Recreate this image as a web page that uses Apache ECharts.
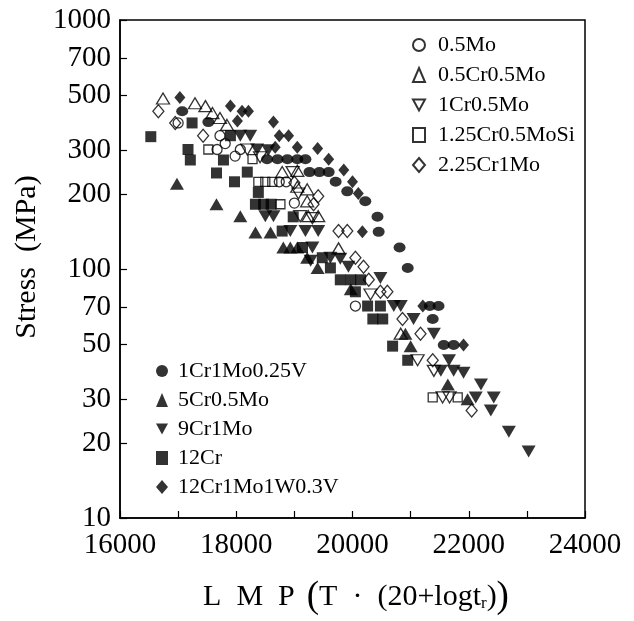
<!DOCTYPE html>
<html>
<head>
<meta charset="utf-8">
<script src="https://cdn.jsdelivr.net/npm/echarts@6/dist/echarts.min.js"></script>
<style>
  html, body { margin: 0; padding: 0; background: #fff; }
  #chart { width: 634px; height: 621px; }
</style>
</head>
<body>
<div id="chart"></div>
<script>
// Larson-Miller parameter vs. rupture stress for ferritic heat-resistant steels
// Each point: [LMP, stress in MPa]

const yTickValues = [10, 20, 30, 50, 70, 100, 200, 300, 500, 700, 1000];
const xLabelStep = 2000;

const mo05 = [[17000,386],[17720,343],[17810,319],[17670,302],[18070,302],[17980,284],
  [18740,224],[18860,224],[19000,184],[20050,71]];
const cr05mo05 = [[16740,484],[17290,463],[17470,451],[17590,423],[17720,404],[17840,379],
  [18790,245],[19050,248],[19050,214],[19220,209],[19220,187],[19240,163],[19410,163],
  [19760,121],[20830,55]];
const cr1mo05 = [[18190,302],[18410,281],[18970,245],[19070,201],[19100,163],[19310,160],
  [20310,79],[21120,43],[21400,39],[21550,30.5],[21670,30.5]];
const cr125mo05si = [[17520,302],[18280,276],[18380,224],[18500,224],[18620,224],[18760,182],
  [21380,30.5],[21810,30.5]];
const cr225mo1 = [[16660,430],[16950,386],[17430,343],[19000,222],[19410,196],[19330,182],
  [19760,142],[19910,142],[20050,111],[20190,102],[20280,90.5],[20480,81],[20600,81],
  [20860,63],[21170,55],[21380,43],[22050,27]];

const cr1mo1v = [[17070,430],[17520,389],[18530,276],[18710,276],[18880,276],[19050,276],
  [19190,276],[19260,245],[19430,245],[19590,245],[19710,224],[19910,205],[20220,187],
  [20430,162],[20450,141],[20810,122],[20950,101],[21330,71],[21480,71],[21380,63],
  [21570,49.5],[21740,49.5]];
const cr5mo05 = [[16980,220],[17660,182],[18070,163],[18330,140],[18590,140],[18810,122],
  [18930,122],[19050,122],[19220,111],[19400,101],[19970,83],[20910,55],[21000,49],
  [21640,34.4],[21980,30]];
const cr9mo1 = [[18070,343],[18240,343],[18360,302],[18550,300],[18500,163],[18640,163],
  [18930,142],[19190,142],[19410,142],[19310,122],[19280,108],[19620,111],[19790,110],
  [19930,102],[20480,92],[20710,71],[20830,71],[21050,63],[21400,55],[21660,43],[21520,39],
  [21740,39],[21910,38.3],[22210,34.4],[22120,30.5],[22430,30.5],[22380,27],[22690,22.2],
  [23030,18.5]];
const cr12 = [[16530,340],[17240,386],[17170,302],[17210,274],[17900,343],[17780,274],
  [17660,243],[17970,224],[18190,245],[18380,203],[18330,182],[18470,182],[18600,182],
  [18980,162],[18790,142],[19140,122],[19480,111],[19620,101],[19790,90.5],[19970,90.5],
  [20140,90.5],[20050,81],[20260,71],[20480,71],[20350,63],[20520,63],[20690,49],[20950,43]];
const cr12mo1w = [[17030,488],[17900,451],[18100,430],[18210,430],[18020,393],[18640,389],
  [18740,343],[18900,343],[18670,308],[19050,308],[19400,305],[19590,276],[19850,250],
  [20000,224],[20100,201],[20170,141],[21210,71],[21910,49.5]];

const openNames = ['0.5Mo', '0.5Cr0.5Mo', '1Cr0.5Mo', '1.25Cr0.5MoSi', '2.25Cr1Mo'];
const filledNames = ['1Cr1Mo0.25V', '5Cr0.5Mo', '9Cr1Mo', '12Cr', '12Cr1Mo1W0.3V'];

const FONT = '"Liberation Serif", "Times New Roman", serif';
// point-down triangle used for the ▽ / ▼ grades (legend icons inherit it)
const DOWN_TRIANGLE = 'path://M0,0L12,0L6,11Z';

function scatter(name, data, symbol, size, filled) {
  return {
    name: name,
    type: 'scatter',
    data: data,
    symbol: symbol,
    symbolSize: size,
    itemStyle: filled
      ? { color: '#000', borderWidth: 0 }
      : { color: 'rgba(255,255,255,0)', borderColor: '#000', borderWidth: 1.3 },
    emphasis: { disabled: true },
    z: filled ? 2 : 3
  };
}

const series = [
  scatter('0.5Mo', mo05, 'circle', 10, false),
  scatter('0.5Cr0.5Mo', cr05mo05, 'triangle', [13, 11], false),
  scatter('1Cr0.5Mo', cr1mo05, DOWN_TRIANGLE, [13, 11], false),
  scatter('1.25Cr0.5MoSi', cr125mo05si, 'rect', 9, false),
  scatter('2.25Cr1Mo', cr225mo1, 'diamond', [11, 13], false),
  scatter('1Cr1Mo0.25V', cr1mo1v, 'circle', [12, 10], true),
  scatter('5Cr0.5Mo', cr5mo05, 'triangle', [14, 12], true),
  scatter('9Cr1Mo', cr9mo1, DOWN_TRIANGLE, [14, 12], true),
  scatter('12Cr', cr12, 'rect', 11, true),
  scatter('12Cr1Mo1W0.3V', cr12mo1w, 'diamond', [11, 13], true)
];

const legendText = { fontFamily: FONT, fontSize: 22, lineHeight: 22, color: '#000', padding: [0, 0, 0, 8] };

const chart = echarts.init(document.getElementById('chart'), null, { renderer: 'canvas' });
chart.setOption({
  backgroundColor: '#fff',
  animation: false,
  grid: {
    left: 120, right: 49, top: 20, bottom: 93,
    show: true, borderColor: '#000', borderWidth: 1.5, backgroundColor: 'transparent'
  },
  legend: [
    {
      data: openNames, orient: 'vertical', left: 412, top: 34, padding: 0,
      itemWidth: 12, itemHeight: 14, itemGap: 8, textStyle: legendText,
      selectedMode: false
    },
    {
      data: filledNames, orient: 'vertical', left: 156, top: 360, padding: 0,
      itemWidth: 12, itemHeight: 14, itemGap: 7, textStyle: Object.assign({}, legendText, { padding: [0, 0, 0, 5] }),
      selectedMode: false
    }
  ],
  xAxis: {
    type: 'value', min: 16000, max: 24000, interval: 1000,
    name: '{a|L  M  P}    {b|(}{a|T  ·  (20+logt}{s|r}{a|)}{b|)}',
    nameLocation: 'middle', nameGap: 61,
    nameTextStyle: {
      color: '#000', fontFamily: FONT, padding: [0, 0, 0, 7],
      rich: {
        a: { fontFamily: FONT, fontSize: 30, color: '#000' },
        b: { fontFamily: FONT, fontSize: 37, color: '#000' },
        s: { fontFamily: FONT, fontSize: 17, color: '#000', padding: [12, 0, 0, 0] }
      }
    },
    axisLine: { lineStyle: { color: '#000', width: 1.5 } },
    axisTick: { inside: true, length: 7, lineStyle: { color: '#000', width: 1.2 } },
    axisLabel: {
      color: '#000', fontFamily: FONT, fontSize: 29, margin: 13,
      formatter: function (v) { return v % xLabelStep === 0 ? String(v) : ''; }
    },
    splitLine: { show: false }
  },
  yAxis: {
    type: 'log', logBase: 10, min: 10, max: 1000,
    name: 'Stress  (MPa)', nameLocation: 'middle', nameGap: 76,
    nameTextStyle: { color: '#000', fontFamily: FONT, fontSize: 30, padding: [0, 0, 0, 24] },
    axisLine: { lineStyle: { color: '#000', width: 1.5 } },
    axisTick: { inside: true, length: 7, lineStyle: { color: '#000', width: 1.2 }, customValues: yTickValues },
    axisLabel: {
      color: '#000', fontFamily: FONT, fontSize: 29, margin: 9,
      customValues: yTickValues,
      formatter: function (v) { return String(Math.round(v)); }
    },
    splitLine: { show: false },
    minorTick: { show: false }
  },
  series: series
});
</script>
</body>
</html>
